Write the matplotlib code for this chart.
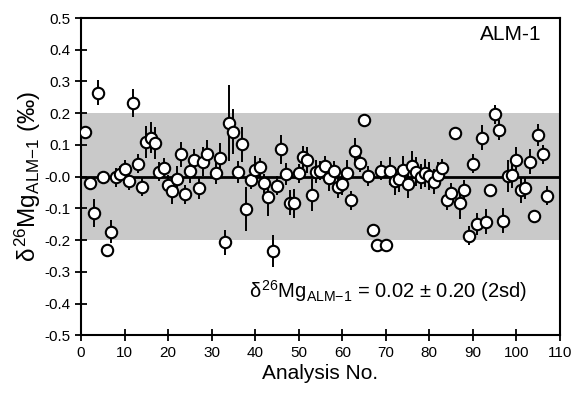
import matplotlib
matplotlib.use("Agg")
import matplotlib.pyplot as plt
import numpy as np

plt.rcParams['font.family'] = ['Liberation Sans', 'DejaVu Sans']
plt.rcParams['mathtext.fontset'] = 'custom'
plt.rcParams['mathtext.rm'] = 'Liberation Sans'
plt.rcParams['mathtext.it'] = 'Liberation Sans'
plt.rcParams['mathtext.bf'] = 'Liberation Sans:bold'
plt.rcParams['axes.unicode_minus'] = False

analysis_no = [1, 2, 3, 4, 5, 6, 7, 8, 9, 10, 11, 12, 13, 14, 15, 16, 17, 18, 19, 20,
               21, 22, 23, 24, 25, 26, 27, 28, 29, 31, 32, 33, 34, 35, 36, 37, 38, 39, 40,
               41, 42, 43, 44, 45, 46, 47, 48, 49, 50, 51, 52, 53, 54, 55, 56, 57, 58, 59, 60,
               61, 62, 63, 64, 65, 66, 67, 68, 69, 70, 71, 72, 73, 74, 75, 76, 77, 78, 79, 80,
               81, 82, 83, 84, 85, 86, 87, 88, 89, 90, 91, 92, 93, 94, 95, 96, 97, 98, 99, 100,
               101, 102, 103, 104, 105, 106, 107]
delta26mg = [0.140, -0.021, -0.114, 0.265, -0.002, -0.231, -0.173, -0.002, 0.008, 0.023,
             -0.013, 0.232, 0.040, -0.032, 0.110, 0.123, 0.105, 0.016, 0.028, -0.026,
             -0.045, -0.007, 0.070, -0.055, 0.019, 0.053, -0.036, 0.047, 0.071, 0.011,
             0.060, -0.207, 0.168, 0.142, 0.014, 0.102, -0.102, -0.010, 0.021, 0.030,
             -0.021, -0.063, -0.234, -0.028, 0.086, 0.008, -0.082, -0.084, 0.011, 0.063,
             0.053, -0.057, 0.016, 0.018, 0.034, -0.005, 0.018, -0.033, -0.024, 0.011,
             -0.075, 0.081, 0.044, 0.177, 0.002, -0.168, -0.215, 0.018, -0.215, 0.018,
             -0.014, -0.007, 0.021, -0.023, 0.035, 0.016, 0.000, 0.011, 0.002, -0.016,
             0.005, 0.026, -0.074, -0.050, 0.139, -0.082, -0.042, -0.186, 0.040, -0.149,
             0.123, -0.142, -0.042, 0.197, 0.147, -0.139, 0.003, 0.005, 0.053, -0.042,
             -0.035, 0.047, -0.123, 0.131, 0.071, -0.060]
err_2sd = [0.010, 0.020, 0.045, 0.040, 0.020, 0.010, 0.035, 0.030, 0.025, 0.030,
           0.030, 0.045, 0.030, 0.030, 0.050, 0.050, 0.050, 0.030, 0.030, 0.030,
           0.040, 0.040, 0.040, 0.030, 0.040, 0.035, 0.035, 0.045, 0.045, 0.035,
           0.045, 0.040, 0.120, 0.070, 0.035, 0.055, 0.070, 0.030, 0.045, 0.030,
           0.030, 0.060, 0.050, 0.030, 0.045, 0.035, 0.040, 0.045, 0.030, 0.035,
           0.040, 0.050, 0.035, 0.030, 0.030, 0.040, 0.030, 0.035, 0.035, 0.040,
           0.030, 0.040, 0.030, 0.010, 0.030, 0.020, 0.020, 0.030, 0.020, 0.045,
           0.045, 0.040, 0.045, 0.045, 0.045, 0.045, 0.040, 0.045, 0.045, 0.040,
           0.040, 0.030, 0.030, 0.030, 0.010, 0.050, 0.030, 0.030, 0.030, 0.035,
           0.040, 0.040, 0.020, 0.030, 0.030, 0.040, 0.050, 0.040, 0.040, 0.040,
           0.035, 0.040, 0.010, 0.035, 0.030, 0.030]

band_low, band_high = -0.20, 0.20
mean_line = 0.0

fig = plt.figure(figsize=(5.76, 3.94), dpi=100)
ax = fig.add_axes([0.1406, 0.149, 0.8316, 0.8053])

ax.axhspan(band_low, band_high, color='#c9c9c9', lw=0, zorder=0)
ax.axhline(mean_line, color='black', lw=2.0, zorder=1)
ax.errorbar(analysis_no, delta26mg, yerr=err_2sd, fmt='o', ms=8.2,
            mfc='white', mec='black', mew=1.5, ecolor='black', elinewidth=1.4,
            capsize=0, zorder=3)

ax.set_xlim(0, 110)
ax.set_ylim(-0.5, 0.5)
ax.set_xticks(np.arange(0, 111, 10))
ax.set_yticks(np.round(np.arange(-0.5, 0.51, 0.1), 1))
ax.set_yticklabels([f"{v:.1f}" for v in np.round(np.arange(-0.5, 0.51, 0.1), 1)])
ax.tick_params(direction='inout', length=8, width=1.3, labelsize=11,
               top=False, right=False)
for s in ax.spines.values():
    s.set_linewidth(1.5)

ax.set_xlabel('Analysis No.', fontsize=15, labelpad=3)
ax.set_ylabel(r'$\delta^{26}\mathrm{Mg}_{\mathrm{ALM}\mathrm{-}1}$ (‰)', fontsize=17.5, labelpad=1)

ax.text(105.8, 0.447, 'ALM-1', fontsize=15, ha='right', va='center')
ax.text(70.5, -0.36, r'$\delta^{26}\mathrm{Mg}_{\mathrm{ALM}\mathrm{-}1}$ = 0.02 ± 0.20 (2sd)',
        fontsize=14.5, ha='center', va='center')

fig.savefig('out.png', dpi=100)
